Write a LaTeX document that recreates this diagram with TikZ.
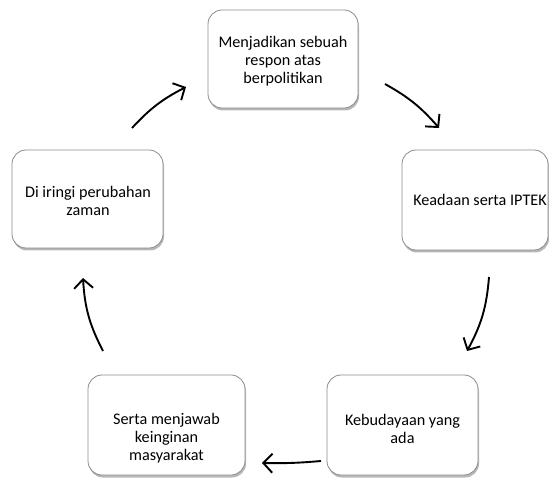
\documentclass[tikz,border=0pt]{standalone}
\usepackage{fontspec}
\setmainfont{Carlito}
\usetikzlibrary{shadows,arrows.meta}
\begin{document}
\begin{tikzpicture}[x=1pt,y=-1pt,
  box/.style={draw=black!45, line width=0.8pt, rounded corners=14pt, fill=white,
    drop shadow={shadow xshift=1pt, shadow yshift=-2.5pt, opacity=0.4, fill=black!70}},
  lbl/.style={align=center, font=\fontsize{16.2}{18}\selectfont, inner sep=0pt},
  cyc/.style={line width=1.9pt, -{Straight Barb[length=9pt,width=19pt,line width=1.9pt]}}]
\useasboundingbox (0,0) rectangle (549,478);
% boxes
\path[box] (208,10) rectangle (358,108);
\node[minimum width=150pt, minimum height=98pt, inner sep=0pt] (top) at (283,59) {};
\path[box] (402,150) rectangle (548,250);
\node[minimum width=146pt, minimum height=100pt, inner sep=0pt] (rgt) at (475,200) {};
\path[box] (12,150) rectangle (163,248);
\node[minimum width=151pt, minimum height=98pt, inner sep=0pt] (lft) at (87.5,199) {};
\path[box] (88,375) rectangle (245,475);
\node[minimum width=157pt, minimum height=100pt, inner sep=0pt] (bl) at (166.5,425) {};
\path[box] (327,375) rectangle (478,475);
\node[minimum width=151pt, minimum height=100pt, inner sep=0pt] (br) at (402.5,425) {};
% texts
\node[lbl] (ttop) at (283,61) {Menjadikan sebuah\\respon atas\\berpolitikan};
\node[lbl] (trgt) at (480,200) {Keadaan serta IPTEK};
\node[lbl] (tlft) at (88,201) {Di iringi perubahan\\zaman};
\node[lbl] (tbl) at (166.5,438) {Serta menjawab\\keinginan\\masyarakat};
\node[lbl] (tbr) at (402.5,429) {Kebudayaan yang\\ada};
% connector endpoints
\coordinate (a1) at (132,128); \coordinate (b1) at (186,87);
\coordinate (a2) at (385,84);  \coordinate (b2) at (439,128);
\coordinate (a3) at (489,277); \coordinate (b3) at (467,351);
\coordinate (a4) at (321,461); \coordinate (b4) at (262,463);
\coordinate (a5) at (103,351); \coordinate (b5) at (83,278);
\draw[cyc] (a1) to[bend left=10] (b1);
\draw[cyc] (a2) to[bend left=10] (b2);
\draw[cyc] (a3) to[bend left=12] (b3);
\draw[cyc] (a4) to[bend left=3] (b4);
\draw[cyc] (a5) to[bend left=12] (b5);
\end{tikzpicture}
\end{document}
